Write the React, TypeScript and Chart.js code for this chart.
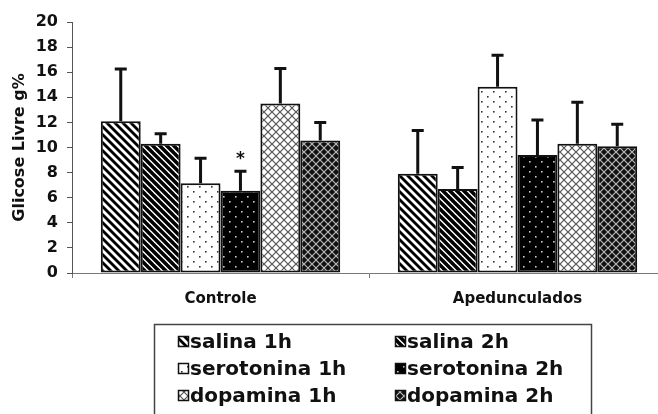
import React, { useEffect, useRef } from 'react';
import { Chart, registerables } from 'chart.js';
Chart.register(...registerables);

// ---------- data ----------
const categories = ['Controle', 'Apedunculados'];
const seriesNames = ['salina 1h', 'salina 2h', 'serotonina 1h', 'serotonina 2h', 'dopamina 1h', 'dopamina 2h'];
const controleMeans = [12.1, 10.3, 7.15, 6.55, 13.5, 10.55];
const controleErrors = [4.15, 0.8, 2.0, 1.55, 2.8, 1.45];
const apedunculadosMeans = [7.9, 6.7, 14.85, 9.4, 10.3, 10.1];
const apedunculadosErrors = [3.45, 1.7, 2.5, 2.8, 3.3, 1.75];
const yMin = 0;
const yMax = 20;
const yStep = 2;
const yTitle = 'Glicose Livre g%';
const starSeriesIndex = 3;
const starCategoryIndex = 0;
const starLabel = '*';

// ---------- styles ----------
const FONT = '"DejaVu Sans", sans-serif';
const patternKinds = ['diagWide', 'diagDense', 'dotsLight', 'dotsDark', 'latticeLight', 'latticeDark'];

function makePattern(kind: string): CanvasPattern | string {
  const c = document.createElement('canvas');
  const ctx = c.getContext('2d')!;
  if (kind === 'diagWide' || kind === 'diagDense') {
    const n = kind === 'diagWide' ? 8 : 7;
    c.width = n; c.height = n;
    ctx.fillStyle = '#fff'; ctx.fillRect(0, 0, n, n);
    ctx.strokeStyle = '#000';
    ctx.lineWidth = kind === 'diagWide' ? 2.8 : 3.5;
    for (let k = -1; k <= 1; k++) {
      ctx.beginPath();
      ctx.moveTo(k * n - 1, -1);
      ctx.lineTo(k * n + n + 1, n + 1);
      ctx.stroke();
    }
  } else if (kind === 'dotsLight' || kind === 'dotsDark') {
    c.width = 12; c.height = 10;
    ctx.fillStyle = kind === 'dotsLight' ? '#fff' : '#000';
    ctx.fillRect(0, 0, 12, 10);
    ctx.fillStyle = kind === 'dotsLight' ? '#333' : '#ccc';
    ctx.fillRect(1, 1, 1.6, 1.6);
    ctx.fillRect(7, 6, 1.6, 1.6);
  } else {
    const n = 8;
    c.width = n; c.height = n;
    ctx.fillStyle = kind === 'latticeLight' ? '#fff' : '#111';
    ctx.fillRect(0, 0, n, n);
    ctx.strokeStyle = kind === 'latticeLight' ? '#555' : '#bbb';
    ctx.lineWidth = 1.2;
    ctx.beginPath();
    ctx.moveTo(0, 0); ctx.lineTo(n, n);
    ctx.moveTo(n, 0); ctx.lineTo(0, n);
    ctx.stroke();
  }
  return ctx.createPattern(c, 'repeat')!;
}

export default function App() {
  const ref = useRef<HTMLCanvasElement>(null);
  useEffect(() => {
    document.body.style.margin = '0';
    document.body.style.overflow = 'hidden';
    const patterns = patternKinds.map(makePattern);
    const datasets = seriesNames.map((name, i) => ({
      label: name,
      data: [controleMeans[i], apedunculadosMeans[i]],
      errors: [controleErrors[i], apedunculadosErrors[i]],
      backgroundColor: patterns[i],
      borderColor: '#111',
      borderWidth: 2,
      borderSkipped: false,
      categoryPercentage: 0.806,
      barPercentage: 1.0,
    }));

    const errorBars = {
      id: 'errorBars',
      afterDatasetsDraw(chart: any) {
        const ctx = chart.ctx;
        const ys = chart.scales.y;
        ctx.save();
        ctx.strokeStyle = '#111';
        ctx.lineWidth = 3;
        chart.data.datasets.forEach((ds: any, i: number) => {
          const meta = chart.getDatasetMeta(i);
          meta.data.forEach((bar: any, j: number) => {
            const top = ys.getPixelForValue(ds.data[j] + ds.errors[j]);
            ctx.beginPath();
            ctx.moveTo(bar.x, bar.y);
            ctx.lineTo(bar.x, top);
            ctx.moveTo(bar.x - 6, top);
            ctx.lineTo(bar.x + 6, top);
            ctx.stroke();
            if (i === starSeriesIndex && j === starCategoryIndex) {
              ctx.fillStyle = '#111';
              ctx.font = 'bold 17px ' + FONT;
              ctx.textAlign = 'center';
              ctx.textBaseline = 'middle';
              ctx.fillText(starLabel, bar.x, top - 12);
            }
          });
        });
        ctx.restore();
      },
    };

    const boxLegend = {
      id: 'boxLegend',
      afterDraw(chart: any) {
        const ctx = chart.ctx;
        ctx.save();
        ctx.strokeStyle = '#444';
        ctx.lineWidth = 1.5;
        ctx.strokeRect(154.5, 324.5, 437, 120);
        const colX = [178, 395];
        const rowY = [342, 369, 396];
        ctx.font = 'bold 20px ' + FONT;
        ctx.textBaseline = 'middle';
        ctx.textAlign = 'left';
        seriesNames.forEach((name, i) => {
          const x = colX[i % 2];
          const y = rowY[Math.floor(i / 2)];
          ctx.fillStyle = patterns[i] as any;
          ctx.fillRect(x, y - 6, 11, 11);
          ctx.strokeStyle = '#111';
          ctx.lineWidth = 1.5;
          ctx.strokeRect(x + 0.5, y - 5.5, 10, 10);
          ctx.fillStyle = '#111';
          ctx.fillText(name, x + 12, y + 1);
        });
        ctx.restore();
      },
    };

    const chart = new Chart(ref.current!, {
      type: 'bar',
      data: { labels: categories, datasets: datasets as any },
      options: {
        animation: false,
        responsive: false,
        layout: { padding: { top: 22, right: 14, left: 0, bottom: 0 } },
        plugins: { legend: { display: false }, tooltip: { enabled: false } },
        scales: {
          x: {
            afterFit: (s: any) => { s.height = 141; },
            grid: { display: true, drawOnChartArea: false, offset: true, tickLength: 5, color: '#777', lineWidth: 1 },
            border: { display: true, color: '#777', width: 1 },
            ticks: { color: '#111', font: { family: FONT, size: 15, weight: 'bold' }, padding: 12 },
          },
          y: {
            min: yMin, max: yMax,
            afterFit: (s: any) => { s.width = 72; },
            grid: { display: true, drawOnChartArea: false, tickLength: 5, color: '#555', lineWidth: 1 },
            border: { display: true, color: '#555', width: 1 },
            ticks: { stepSize: yStep, color: '#111', font: { family: FONT, size: 16, weight: 'bold' }, padding: 9 },
            title: { display: true, text: yTitle, color: '#111', font: { family: FONT, size: 16, weight: 'bold' }, padding: { top: 10, bottom: 0 } },
          },
        },
      },
      plugins: [errorBars, boxLegend],
    } as any);
    return () => chart.destroy();
  }, []);
  return (
    <div style={{ position: 'absolute', left: 0, top: 0, width: 680, height: 414 }}>
      <canvas ref={ref} width={680} height={414} style={{ display: 'block' }} />
    </div>
  );
}
